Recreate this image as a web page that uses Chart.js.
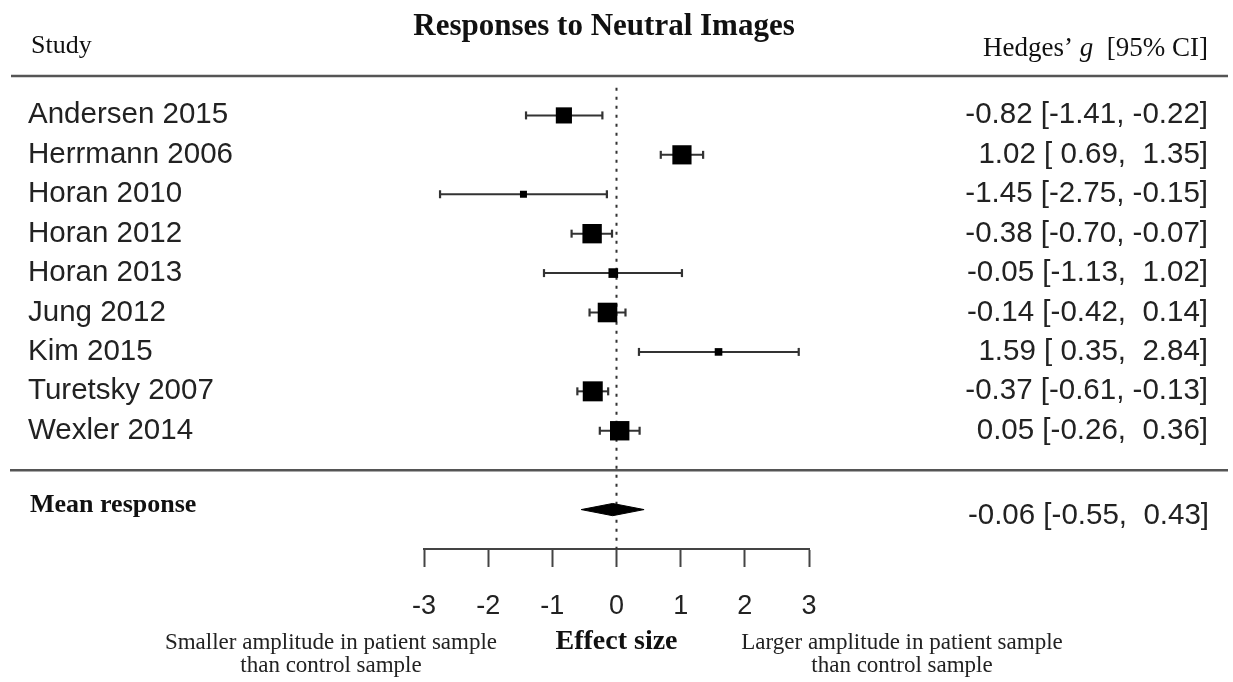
<!DOCTYPE html>
<html>
<head>
<meta charset="utf-8">
<title>Responses to Neutral Images</title>
<script src="https://cdn.jsdelivr.net/npm/chart.js@4.4.1/dist/chart.umd.min.js"></script>
<style>
  html, body { margin: 0; padding: 0; background: #fff; }
  #wrap { width: 1233px; height: 682px; }
</style>
</head>
<body>
<div id="wrap"><canvas id="forest" width="1233" height="682"></canvas></div>
<script>
/* ---------- Данные ---------- */
const studies = [
  'Andersen 2015', 'Herrmann 2006', 'Horan 2010', 'Horan 2012', 'Horan 2013',
  'Jung 2012', 'Kim 2015', 'Turetsky 2007', 'Wexler 2014',
];
const estimates = [-0.82, 1.02, -1.45, -0.38, -0.05, -0.14, 1.59, -0.37, 0.05];
const ciLower = [-1.41, 0.69, -2.75, -0.70, -1.13, -0.42, 0.35, -0.61, -0.26];
const ciUpper = [-0.22, 1.35, -0.15, -0.07, 1.02, 0.14, 2.84, -0.13, 0.36];
// относительный вес исследования, % (оценка по размеру квадратов)
const weights = [11.5, 13.0, 7.0, 13.1, 8.3, 13.2, 7.3, 13.4, 13.1];

const meanLabel = 'Mean response';
const meanEstimate = -0.06;
const meanLower = -0.55;
const meanUpper = 0.43;

const xMin = -3;
const xMax = 3;

/* ---------- Оформление ---------- */
const INK = '#222';
const LINE = '#333';
const SANS = '"Liberation Sans", Arial, sans-serif';
const SERIF = '"Liberation Serif", "Times New Roman", serif';

const meanRow = studies.length + 2;     // строка среднего
const sepRow = studies.length + 1;      // разделительная линия
const axisRow = studies.length + 3;     // низ области графика

const fmtCI = (v) => (v < 0 ? v.toFixed(2) : ' ' + v.toFixed(2));
const fmtRow = (e, lo, hi) => `${e.toFixed(2)} [${fmtCI(lo)}, ${fmtCI(hi)}]`;

// размер квадрата линейно по весу (как в metafor)
const wMin = Math.min(...weights);
const wMax = Math.max(...weights);
const boxSide = (w) => 7 + ((w - wMin) / (wMax - wMin)) * 13;

/* ---------- Наборы данных ---------- */
const whiskers = studies.map((s, i) => ({
  type: 'line',
  label: s,
  data: [{ x: ciLower[i], y: i + 1 }, { x: ciUpper[i], y: i + 1 }],
  borderColor: LINE,
  borderWidth: 2,
  pointRadius: 0,
  showLine: true,
  order: 3,
}));

const caps = {
  label: 'caps',
  data: studies.flatMap((s, i) => [{ x: ciLower[i], y: i + 1 }, { x: ciUpper[i], y: i + 1 }]),
  pointStyle: 'line',
  rotation: 90,
  pointRadius: 4,
  borderColor: LINE,
  borderWidth: 2.2,
  order: 2,
};

const boxes = {
  label: 'boxes',
  data: studies.map((s, i) => ({ x: estimates[i], y: i + 1 })),
  pointStyle: 'rect',
  pointRadius: weights.map((w) => boxSide(w) / Math.SQRT2),
  backgroundColor: '#000',
  borderWidth: 0,
  order: 1,
};

const halfH = 0.155;
const diamondTop = {
  type: 'line',
  label: 'mean-top',
  data: [
    { x: meanLower, y: meanRow },
    { x: meanEstimate, y: meanRow - halfH },
    { x: meanUpper, y: meanRow },
  ],
  borderColor: '#000',
  backgroundColor: '#000',
  borderWidth: 1,
  pointRadius: 0,
  showLine: true,
  tension: 0,
  fill: '+1',
  order: 1,
};
const diamondBottom = {
  type: 'line',
  label: 'mean-bottom',
  data: [
    { x: meanLower, y: meanRow },
    { x: meanEstimate, y: meanRow + halfH },
    { x: meanUpper, y: meanRow },
  ],
  borderColor: '#000',
  borderWidth: 1,
  pointRadius: 0,
  showLine: true,
  tension: 0,
  fill: false,
  order: 1,
};

const zeroLine = {
  type: 'line',
  label: 'zero',
  data: [{ x: 0, y: 0.3 }, { x: 0, y: axisRow }],
  borderColor: LINE,
  borderWidth: 2,
  borderDash: [3, 6],
  pointRadius: 0,
  showLine: true,
  order: 4,
};

/* ---------- Тексты и линии вокруг графика ---------- */
const forestText = {
  id: 'forestText',
  beforeDatasetsDraw(chart) {
    const { ctx, scales: { y } } = chart;
    ctx.save();
    ctx.strokeStyle = '#555';
    ctx.lineWidth = 2.5;
    [[0, 11], [sepRow, 10]].forEach(([row, x0]) => {
      const py = y.getPixelForValue(row);
      ctx.beginPath();
      ctx.moveTo(x0, py);
      ctx.lineTo(1228, py);
      ctx.stroke();
    });
    ctx.restore();
  },
  afterDraw(chart) {
    const { ctx, scales: { x, y } } = chart;
    ctx.save();
    ctx.textBaseline = 'alphabetic';

    // заголовки
    ctx.fillStyle = '#111';
    ctx.font = `bold 31px ${SERIF}`;
    ctx.textAlign = 'center';
    ctx.fillText('Responses to Neutral Images', 604, 35);

    ctx.font = `26px ${SERIF}`;
    ctx.textAlign = 'left';
    ctx.fillText('Study', 31, 53);

    ctx.textAlign = 'right';
    const rEdge = 1208;
    const p3 = '  [95% CI]';
    ctx.font = `27px ${SERIF}`;
    ctx.fillText(p3, rEdge, 56);
    const w3 = ctx.measureText(p3).width;
    ctx.font = `italic 27px ${SERIF}`;
    ctx.fillText('g', rEdge - w3, 56);
    const wg = ctx.measureText('g').width;
    ctx.font = `27px ${SERIF}`;
    ctx.fillText('Hedges\u2019 ', rEdge - w3 - wg, 56);

    // строки исследований
    ctx.fillStyle = INK;
    ctx.font = `29.5px ${SANS}`;
    studies.forEach((s, i) => {
      const py = y.getPixelForValue(i + 1) + 8;
      ctx.textAlign = 'left';
      ctx.fillText(s, 28, py);
      ctx.textAlign = 'right';
      ctx.fillText(fmtRow(estimates[i], ciLower[i], ciUpper[i]), rEdge, py);
    });

    // среднее
    const my = y.getPixelForValue(meanRow);
    ctx.textAlign = 'right';
    ctx.fillText(fmtRow(meanEstimate, meanLower, meanUpper), rEdge + 1, my + 14);
    ctx.fillStyle = '#111';
    ctx.font = `bold 26px ${SERIF}`;
    ctx.textAlign = 'left';
    ctx.fillText(meanLabel, 30, my + 2.5);

    // подписи оси
    ctx.textAlign = 'center';
    ctx.font = `bold 28px ${SERIF}`;
    ctx.fillText('Effect size', x.getPixelForValue(0), 649);
    ctx.font = `23px ${SERIF}`;
    ctx.fillStyle = '#222';
    ctx.fillText('Smaller amplitude in patient sample', 331, 649);
    ctx.fillText('than control sample', 331, 672);
    ctx.fillText('Larger amplitude in patient sample', 902, 649);
    ctx.fillText('than control sample', 902, 672);
    ctx.restore();
  },
};

/* ---------- Старт ---------- */
new Chart(document.getElementById('forest'), {
  type: 'scatter',
  data: { datasets: [zeroLine, ...whiskers, caps, boxes, diamondTop, diamondBottom] },
  options: {
    responsive: false,
    animation: false,
    devicePixelRatio: 1,
    events: [],
    layout: { padding: { left: 424, right: 424, top: 76, bottom: 0 } },
    plugins: { legend: { display: false }, tooltip: { enabled: false } },
    scales: {
      x: {
        type: 'linear',
        position: 'bottom',
        min: xMin,
        max: xMax,
        afterFit: (s) => { s.height = 133; },
        ticks: { stepSize: 1, color: INK, font: { family: SANS, size: 27 }, padding: 23 },
        grid: { drawOnChartArea: false, drawTicks: true, tickLength: 18, tickColor: '#444', tickWidth: 2 },
        border: { display: true, color: '#444', width: 2 },
      },
      y: {
        type: 'linear',
        min: 0,
        max: axisRow,
        reverse: true,
        display: false,
      },
    },
  },
  plugins: [forestText],
});
</script>
</body>
</html>
